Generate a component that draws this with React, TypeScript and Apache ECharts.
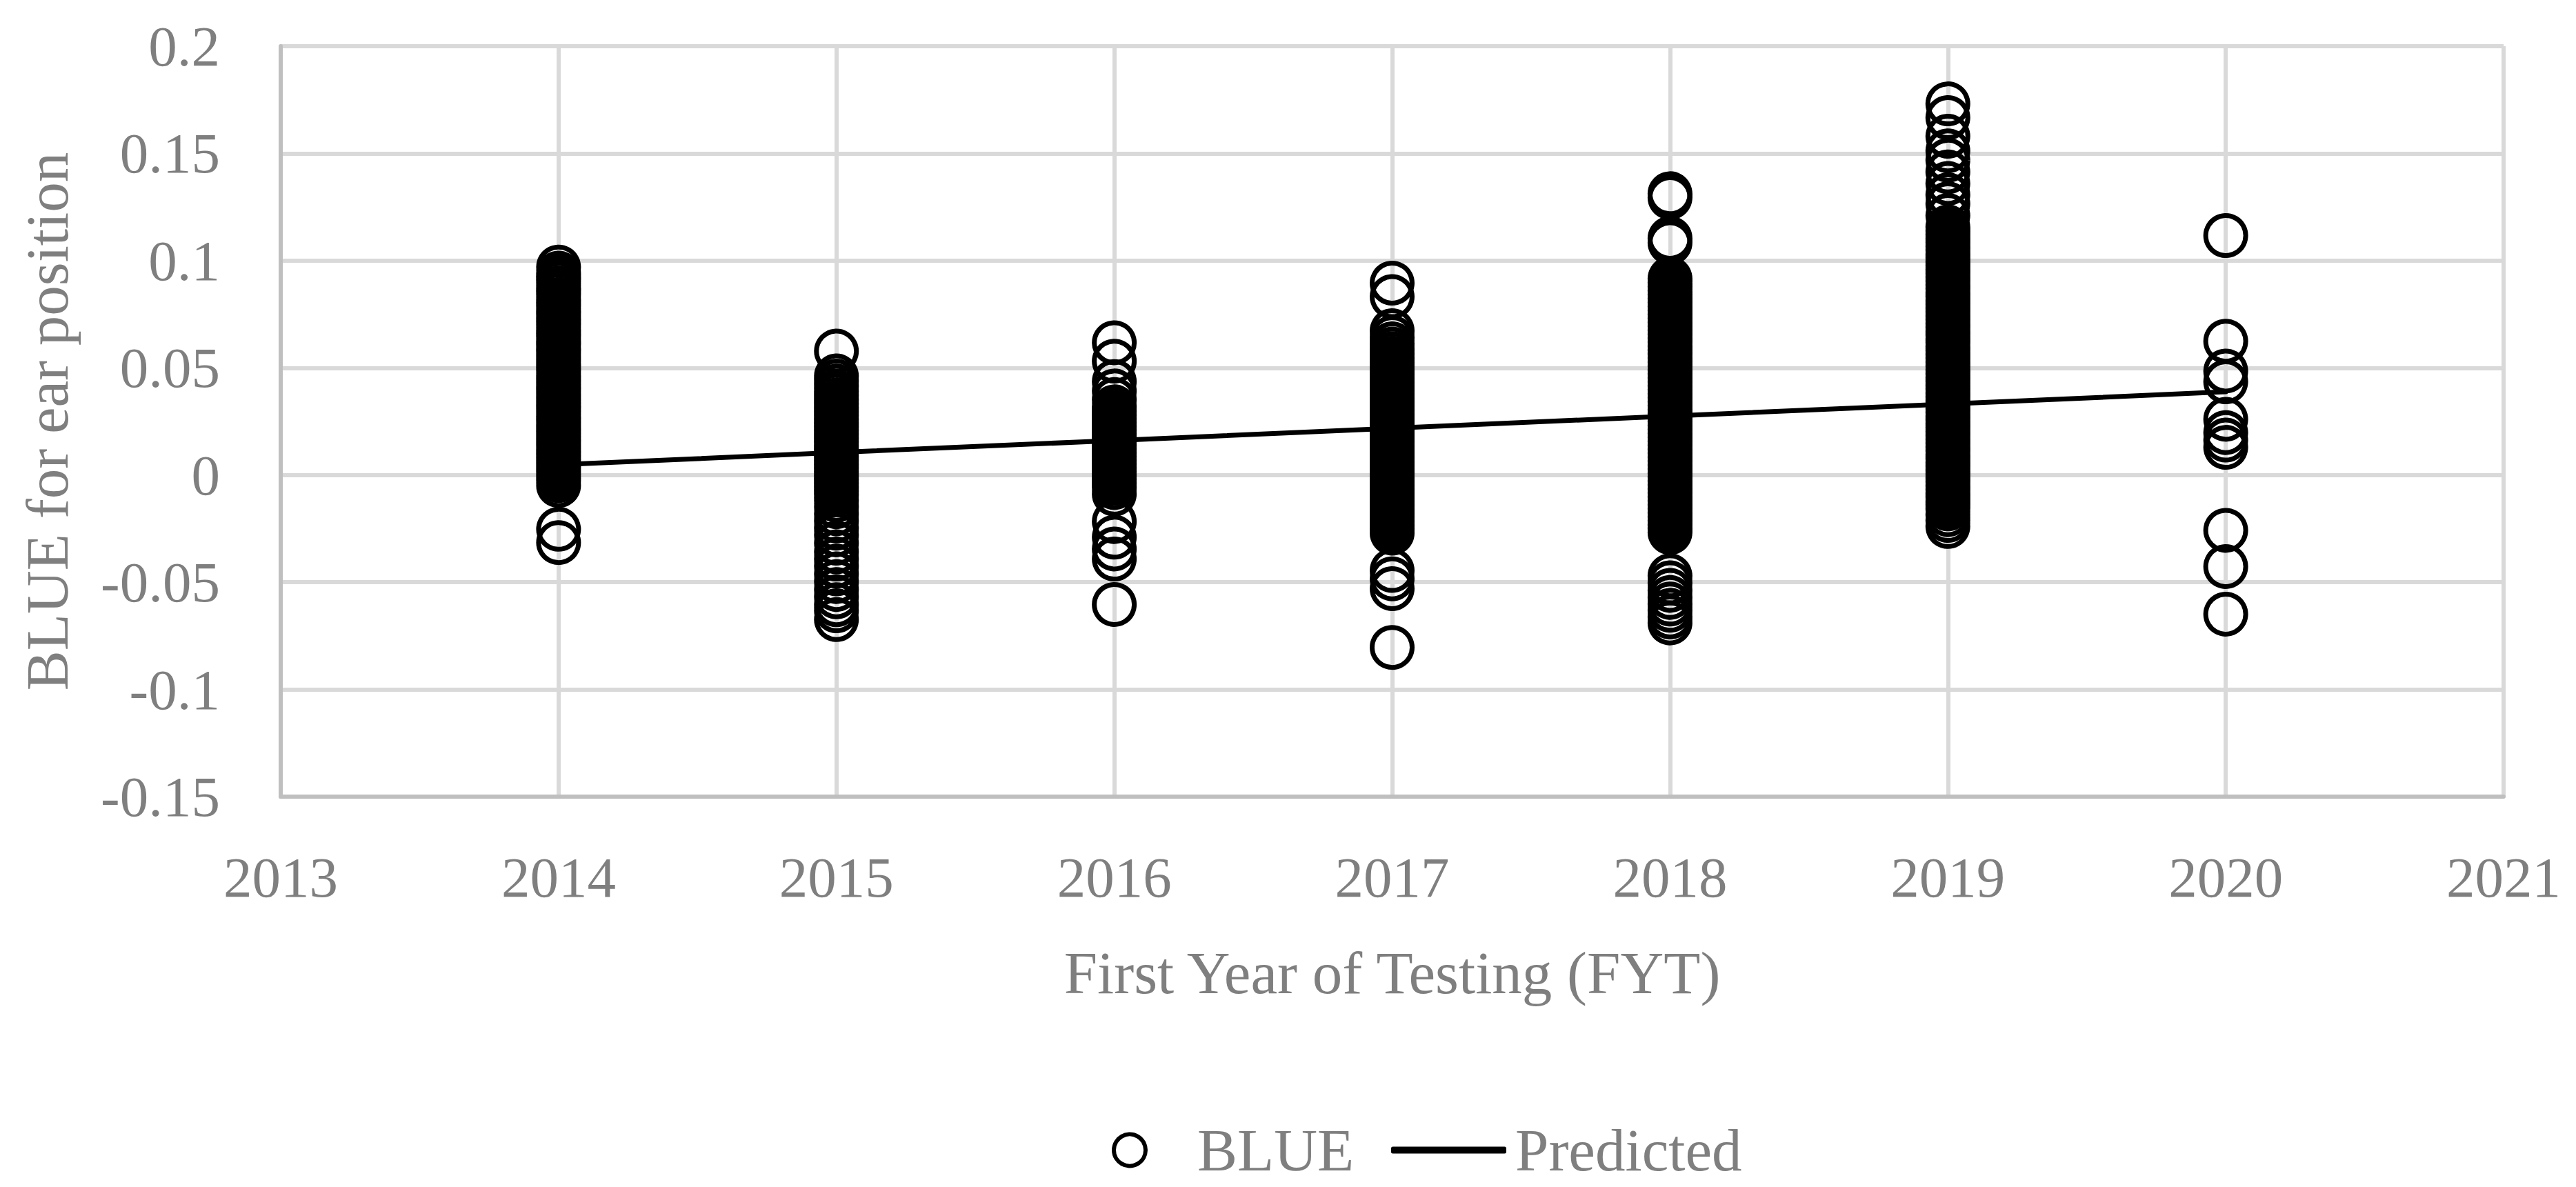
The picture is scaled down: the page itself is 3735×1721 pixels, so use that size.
import React, { useEffect, useRef } from "react";
import * as echarts from "echarts";

// ---- data ----
const xTickLabels = [2013, 2014, 2015, 2016, 2017, 2018, 2019, 2020, 2021];
const years = [2014, 2015, 2016, 2017, 2018, 2019, 2020];

const blue2014 = [
  0.0970, 0.0942, 0.0925, 0.0911, 0.0893, 0.0872, 0.0858, 0.0840, 0.0819, 0.0803,
  0.0787, 0.0766, 0.0751, 0.0732, 0.0716, 0.0698, 0.0677, 0.0661, 0.0645, 0.0624,
  0.0609, 0.0590, 0.0573, 0.0554, 0.0538, 0.0519, 0.0502, 0.0486, 0.0465, 0.0449,
  0.0431, 0.0412, 0.0397, 0.0378, 0.0360, 0.0343, 0.0325, 0.0309, 0.0290, 0.0272,
  0.0257, 0.0238, 0.0220, 0.0203, 0.0186, 0.0168, 0.0151, 0.0133, 0.0115, 0.0099,
  0.0081, 0.0064, 0.0046, 0.0029, 0.0011, -0.0008, -0.0026, -0.0049, -0.0253, -0.0315,
];
const blue2015 = [
  0.0578, 0.0462, 0.0438, 0.0415, 0.0391, 0.0372, 0.0351, 0.0333, 0.0314, 0.0296,
  0.0279, 0.0260, 0.0243, 0.0225, 0.0208, 0.0190, 0.0172, 0.0155, 0.0137, 0.0120,
  0.0102, 0.0085, 0.0067, 0.0050, 0.0032, 0.0015, -0.0003, -0.0021, -0.0038, -0.0056,
  -0.0074, -0.0093, -0.0118, -0.0148, -0.0181, -0.0214, -0.0248, -0.0279, -0.0318, -0.0358,
  -0.0392, -0.0425, -0.0461, -0.0497, -0.0534, -0.0568, -0.0605, -0.0633, -0.0674,
];
const blue2016 = [
  0.0617, 0.0531, 0.0436, 0.0392, 0.0352, 0.0318, 0.0298, 0.0279, 0.0262, 0.0244,
  0.0227, 0.0209, 0.0192, 0.0174, 0.0157, 0.0139, 0.0121, 0.0104, 0.0086, 0.0069,
  0.0051, 0.0034, 0.0016, -0.0002, -0.0020, -0.0037, -0.0058, -0.0089, -0.0217, -0.0290,
  -0.0345, -0.0392, -0.0604,
];
const blue2017 = [
  0.0895, 0.0832, 0.0673, 0.0641, 0.0612, 0.0588, 0.0566, 0.0545, 0.0526, 0.0507,
  0.0488, 0.0470, 0.0451, 0.0433, 0.0414, 0.0396, 0.0377, 0.0358, 0.0340, 0.0321,
  0.0303, 0.0284, 0.0266, 0.0247, 0.0229, 0.0210, 0.0192, 0.0173, 0.0155, 0.0136,
  0.0118, 0.0099, 0.0081, 0.0062, 0.0044, 0.0025, 0.0007, -0.0012, -0.0030, -0.0049,
  -0.0067, -0.0086, -0.0104, -0.0123, -0.0141, -0.0160, -0.0178, -0.0197, -0.0215, -0.0234,
  -0.0252, -0.0271, -0.0445, -0.0484, -0.0530, -0.0804,
];
const blue2018 = [
  0.1312, 0.1294, 0.1104, 0.1083, 0.0916, 0.0897, 0.0879, 0.0860, 0.0842, 0.0823,
  0.0805, 0.0786, 0.0768, 0.0749, 0.0731, 0.0712, 0.0694, 0.0675, 0.0657, 0.0638,
  0.0620, 0.0601, 0.0583, 0.0564, 0.0546, 0.0527, 0.0509, 0.0490, 0.0472, 0.0453,
  0.0435, 0.0416, 0.0398, 0.0379, 0.0361, 0.0342, 0.0324, 0.0305, 0.0287, 0.0268,
  0.0250, 0.0231, 0.0213, 0.0194, 0.0176, 0.0157, 0.0139, 0.0120, 0.0102, 0.0083,
  0.0065, 0.0046, 0.0028, 0.0009, -0.0009, -0.0028, -0.0046, -0.0065, -0.0083, -0.0102,
  -0.0120, -0.0139, -0.0157, -0.0176, -0.0194, -0.0213, -0.0231, -0.0250, -0.0268, -0.0470,
  -0.0503, -0.0538, -0.0571, -0.0602, -0.0631, -0.0662, -0.0690,
];
const blue2019 = [
  0.1731, 0.1667, 0.1580, 0.1512, 0.1468, 0.1414, 0.1360, 0.1307, 0.1265, 0.1210,
  0.1157, 0.1139, 0.1121, 0.1102, 0.1085, 0.1066, 0.1049, 0.1030, 0.1013, 0.0994,
  0.0977, 0.0958, 0.0941, 0.0922, 0.0905, 0.0886, 0.0869, 0.0850, 0.0833, 0.0814,
  0.0797, 0.0778, 0.0761, 0.0742, 0.0725, 0.0706, 0.0689, 0.0670, 0.0653, 0.0634,
  0.0617, 0.0598, 0.0581, 0.0562, 0.0545, 0.0526, 0.0509, 0.0490, 0.0473, 0.0454,
  0.0437, 0.0418, 0.0401, 0.0382, 0.0365, 0.0346, 0.0329, 0.0310, 0.0293, 0.0274,
  0.0257, 0.0238, 0.0221, 0.0202, 0.0185, 0.0166, 0.0149, 0.0130, 0.0113, 0.0094,
  0.0077, 0.0058, 0.0041, 0.0022, 0.0005, -0.0014, -0.0031, -0.0050, -0.0067, -0.0086,
  -0.0103, -0.0122, -0.0139, -0.0158, -0.0185, -0.0212, -0.0240,
];
const blue2020 = [0.1117, 0.0624, 0.0485, 0.0435, 0.0260, 0.0198, 0.0163, 0.0129, -0.0258, -0.0427, -0.0649];

const predicted = [0.0048, 0.0105, 0.0161, 0.0218, 0.0275, 0.0331, 0.0388];

const blueByYear = [blue2014, blue2015, blue2016, blue2017, blue2018, blue2019, blue2020];

const FONT = "Liberation Serif";
const TEXT = "#7f7f7f";

export default function App() {
  const ref = useRef<HTMLDivElement>(null);

  useEffect(() => {
    if (!ref.current) return;
    const chart = echarts.init(ref.current, null, { renderer: "svg" });

    const scatterData: number[][] = [];
    years.forEach((yr, i) => {
      blueByYear[i].forEach((v) => scatterData.push([yr, v]));
    });
    const lineData = years.map((yr, i) => [yr, predicted[i]]);

    chart.setOption({
      animation: false,
      backgroundColor: "#ffffff",
      grid: { left: 407, right: 105, top: 67, bottom: 566, containLabel: false },
      xAxis: {
        type: "value",
        min: xTickLabels[0],
        max: xTickLabels[xTickLabels.length - 1],
        interval: 1,
        name: "First Year of Testing (FYT)",
        nameLocation: "middle",
        nameGap: 212,
        nameTextStyle: { fontFamily: FONT, fontSize: 87, color: TEXT },
        axisLine: { show: true, onZero: false, lineStyle: { color: "#bfbfbf", width: 6 } },
        axisTick: { show: false },
        axisLabel: {
          fontFamily: FONT,
          fontSize: 83,
          color: TEXT,
          margin: 75,
          formatter: (v: number) => String(v),
        },
        splitLine: { show: true, lineStyle: { color: "#d9d9d9", width: 6 } },
      },
      yAxis: {
        type: "value",
        min: -0.15,
        max: 0.2,
        interval: 0.05,
        name: "BLUE for ear position",
        nameLocation: "middle",
        nameGap: 295,
        nameRotate: 90,
        nameTextStyle: { fontFamily: FONT, fontSize: 87, color: TEXT },
        axisLine: { show: true, onZero: false, lineStyle: { color: "#bfbfbf", width: 6 } },
        axisTick: { show: false },
        axisLabel: { fontFamily: FONT, fontSize: 83, color: TEXT, margin: 88 },
        splitLine: { show: true, lineStyle: { color: "#d9d9d9", width: 6 } },
      },
      legend: [
        {
          data: [
            {
              name: "BLUE",
              icon: "circle",
              itemStyle: { color: "rgba(0,0,0,0)", borderColor: "#000000", borderWidth: 6 },
            },
          ],
          left: 1607,
          top: 1619,
          itemWidth: 46,
          itemHeight: 46,
          selectedMode: false,
          textStyle: { fontFamily: FONT, fontSize: 87, color: TEXT, padding: [0, 0, 0, 70] },
        },
        {
          data: [{ name: "Predicted", icon: "roundRect", itemStyle: { color: "#000000", borderWidth: 0 } }],
          left: 2012,
          top: 1619,
          itemWidth: 167,
          itemHeight: 10,
          selectedMode: false,
          textStyle: { fontFamily: FONT, fontSize: 87, color: TEXT, padding: [0, 0, 0, 8] },
        },
      ],
      series: [
        {
          name: "BLUE",
          type: "scatter",
          data: scatterData,
          symbol: "circle",
          symbolSize: 58,
          silent: true,
          itemStyle: { color: "rgba(0,0,0,0)", borderColor: "#000000", borderWidth: 7, opacity: 1 },
          emphasis: { disabled: true },
        },
        {
          name: "Predicted",
          type: "line",
          data: lineData,
          symbol: "none",
          silent: true,
          lineStyle: { color: "#000000", width: 7, cap: "round" },
          itemStyle: { color: "#000000" },
          emphasis: { disabled: true },
        },
      ],
    });

    return () => chart.dispose();
  }, []);

  return (
    <div
      ref={ref}
      style={{ position: "fixed", left: 0, top: 0, width: 3735, height: 1721, background: "#ffffff" }}
    />
  );
}
